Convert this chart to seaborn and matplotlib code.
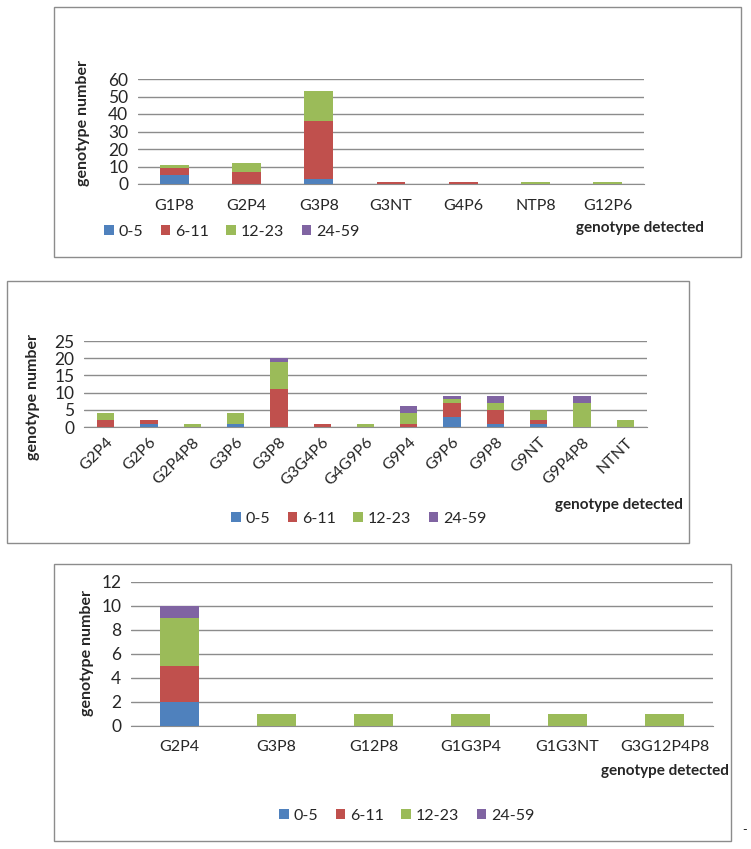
import numpy as np
import matplotlib
matplotlib.use("Agg")
import matplotlib.pyplot as plt
import seaborn as sns
from matplotlib.patches import Patch, Rectangle

sns.set_style("white")
plt.rcParams["font.family"] = ["Lato", "DejaVu Sans"]

age_groups = ["0-5", "6-11", "12-23", "24-59"]
colors = ["#4F81BD", "#C0504D", "#9BBB59", "#8064A2"]

# panel 1
cats1 = ["G1P8", "G2P4", "G3P8", "G3NT", "G4P6", "NTP8", "G12P6"]
p1_0_5 = [5, 0, 3, 0, 0, 0, 0]
p1_6_11 = [4, 7, 33, 1, 1, 0, 0]
p1_12_23 = [2, 5, 17, 0, 0, 1, 1]
p1_24_59 = [0, 0, 0, 0, 0, 0, 0]

# panel 2
cats2 = ["G2P4", "G2P6", "G2P4P8", "G3P6", "G3P8", "G3G4P6", "G4G9P6",
         "G9P4", "G9P6", "G9P8", "G9NT", "G9P4P8", "NTNT"]
p2_0_5 = [0, 1, 0, 1, 0, 0, 0, 0, 3, 1, 1, 0, 0]
p2_6_11 = [2, 1, 0, 0, 11, 1, 0, 1, 4, 4, 1, 0, 0]
p2_12_23 = [2, 0, 1, 3, 8, 0, 1, 3, 1, 2, 3, 7, 2]
p2_24_59 = [0, 0, 0, 0, 1, 0, 0, 2, 1, 2, 0, 2, 0]

# panel 3
cats3 = ["G2P4", "G3P8", "G12P8", "G1G3P4", "G1G3NT", "G3G12P4P8"]
p3_0_5 = [2, 0, 0, 0, 0, 0]
p3_6_11 = [3, 0, 0, 0, 0, 0]
p3_12_23 = [4, 1, 1, 1, 1, 1]
p3_24_59 = [1, 0, 0, 0, 0, 0]

W, H = 751, 849
fig = plt.figure(figsize=(W / 100, H / 100), dpi=100)


def fx(x):
    return x / W


def fy(y):
    return 1 - y / H


def add_panel(cats, series, ymax, ystep, box, area, rot, ylab_xy, det_xy, leg_xy, pad):
    # frame around the chart
    l, t, r, b = box
    fig.patches.append(Rectangle((fx(l), fy(b)), fx(r - l), (b - t) / H,
                                 transform=fig.transFigure, fill=False,
                                 edgecolor="#8C8C8C", linewidth=1.0))
    x0, y0, x1, y1 = area
    ax = fig.add_axes([fx(x0), fy(y1), fx(x1 - x0), (y1 - y0) / H])
    cum = np.cumsum(np.array(series), axis=0)
    for i in range(3, -1, -1):
        sns.barplot(x=cats, y=cum[i], color=colors[i], saturation=1,
                    width=0.4, ax=ax, zorder=3, linewidth=0)
    ax.set_ylim(0, ymax)
    ax.set_xlim(-0.5, len(cats) - 0.5)
    ax.set_yticks(np.arange(0, ymax + 1, ystep))
    ax.yaxis.grid(True, color="#8C8C8C", linewidth=1.0, zorder=0)
    ax.set_axisbelow(True)
    for s in ["top", "right", "left"]:
        ax.spines[s].set_visible(False)
    ax.spines["bottom"].set_color("#8C8C8C")
    ax.set_xlabel("")
    ax.set_ylabel("")
    ax.tick_params(axis="y", length=0, pad=7, labelsize=12.5)
    ax.tick_params(axis="x", length=0, pad=pad, labelsize=11.5)
    if rot:
        for lab in ax.get_xticklabels():
            lab.set_rotation(45)
            lab.set_ha("right")
            lab.set_rotation_mode("anchor")
    fig.text(fx(ylab_xy[0]), fy(ylab_xy[1]), "genotype number", rotation=90,
             ha="center", va="center", fontsize=11.5, fontweight="bold")
    fig.text(fx(det_xy[0]), fy(det_xy[1]), "genotype detected",
             ha="right", va="center", fontsize=11, fontweight="bold")
    handles = [Patch(facecolor=c, edgecolor="none", label=g)
               for c, g in zip(colors, age_groups)]
    fig.legend(handles=handles, loc="center left",
               bbox_to_anchor=(fx(leg_xy[0]), fy(leg_xy[1])), ncol=4,
               frameon=False, fontsize=11.5, handlelength=0.6,
               handleheight=0.6, handletextpad=0.3, columnspacing=1.1,
               borderaxespad=0, borderpad=0)
    return ax


add_panel(cats1, [p1_0_5, p1_6_11, p1_12_23, p1_24_59], 60, 10,
          (54, 7, 741, 257), (138, 79, 644, 184), False,
          (83, 123), (704, 228), (104, 232), 11)
add_panel(cats2, [p2_0_5, p2_6_11, p2_12_23, p2_24_59], 25, 5,
          (7, 281, 689, 543), (84, 341, 647, 427), True,
          (33, 397), (683, 505), (231, 519), 6)
add_panel(cats3, [p3_0_5, p3_6_11, p3_12_23, p3_24_59], 12, 2,
          (54, 564, 731, 841), (131, 582, 713, 726), False,
          (87, 653), (729, 771), (279, 816), 10)

fig.text(fx(745), fy(830), "-", ha="center", va="center", fontsize=9)

fig.savefig("out.png", dpi=100)
